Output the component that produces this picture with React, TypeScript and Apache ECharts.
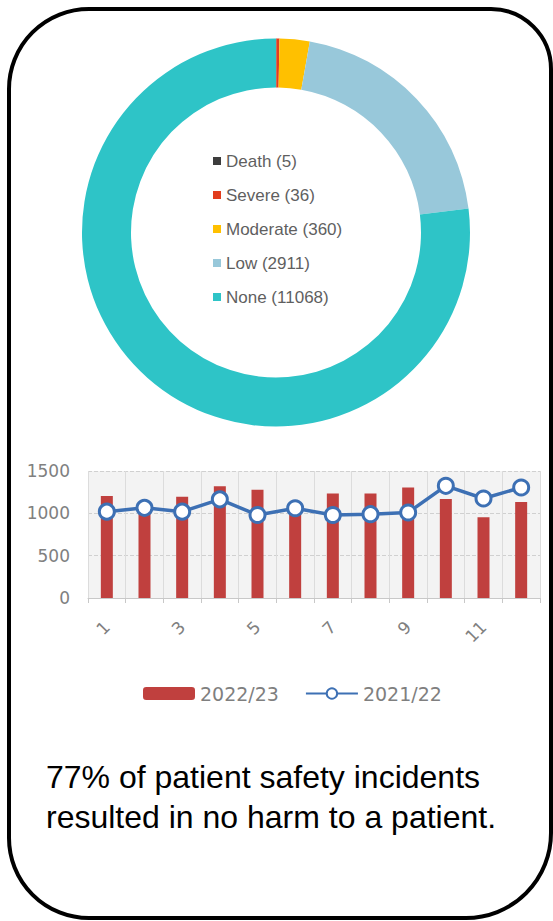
import React, { useEffect, useRef } from "react";
import * as echarts from "echarts";

const severityNames = ["Death", "Severe", "Moderate", "Low", "None"];
const severityCounts = [5, 36, 360, 2911, 11068];
const months = ["1", "2", "3", "4", "5", "6", "7", "8", "9", "10", "11", "12"];
const incidents2223 = [1205, 1060, 1195, 1320, 1280, 1040, 1235, 1235, 1305, 1170, 955, 1135];
const incidents2122 = [1020, 1065, 1020, 1165, 980, 1060, 980, 990, 1010, 1325, 1175, 1305];
const seriesNames = ["2022/23", "2021/22"];
const summaryText = "77% of patient safety incidents\nresulted in no harm to a patient.";

const sliceColors = ["#3d3d3d", "#e23d1e", "#ffc000", "#98c8da", "#2ec4c7"];
const ARIAL = 'Arial, "Liberation Sans", sans-serif';
const DEJAVU = '"DejaVu Sans", sans-serif';

export default function App() {
  const ref = useRef<HTMLDivElement>(null);
  useEffect(() => {
    document.body.style.margin = "0";
    if (!ref.current) return;
    const chart = echarts.init(ref.current, undefined, { renderer: "svg" });
    const pieData = severityNames.map((n, i) => ({
      name: n,
      value: severityCounts[i],
      itemStyle: { color: sliceColors[i] },
    }));
    chart.setOption({
      animation: false,
      backgroundColor: "#ffffff",
      legend: [
        {
          orient: "vertical",
          left: 208,
          top: 147,
          icon: "rect",
          itemWidth: 8,
          itemHeight: 8,
          itemGap: 16,
          selectedMode: false,
          data: severityNames,
          formatter: (name: string) => {
            const i = severityNames.indexOf(name);
            return `${name} (${severityCounts[i]})`;
          },
          textStyle: { fontFamily: ARIAL, fontSize: 17, color: "#5f5f5f", lineHeight: 18 },
        },
        {
          orient: "horizontal",
          left: 138,
          top: 679,
          itemWidth: 52,
          itemHeight: 13,
          itemGap: 26,
          selectedMode: false,
          data: seriesNames,
          textStyle: { fontFamily: DEJAVU, fontSize: 19, color: "#7f7f7f" },
        },
      ],
      grid: {
        left: 88,
        top: 471,
        width: 452,
        height: 127,
        show: true,
        backgroundColor: "#f3f3f3",
        borderWidth: 0,
      },
      xAxis: {
        type: "category",
        data: months,
        boundaryGap: true,
        axisLine: { show: true, lineStyle: { color: "#c8c8c8", width: 1 } },
        axisTick: { show: true, length: 5, interval: 0, lineStyle: { color: "#c8c8c8" } },
        splitLine: { show: true, interval: 0, lineStyle: { color: "#dcdcdc", width: 1 } },
        axisLabel: {
          interval: 1,
          rotate: 45,
          margin: 26,
          fontFamily: DEJAVU,
          fontSize: 17,
          color: "#808080",
        },
      },
      yAxis: {
        type: "value",
        min: 0,
        max: 1500,
        interval: 500,
        axisLine: { show: false },
        axisTick: { show: false },
        splitLine: { show: true, lineStyle: { color: "#d0d0d0", type: "dashed", width: 1 } },
        axisLabel: {
          margin: 18,
          fontFamily: DEJAVU,
          fontSize: 17,
          color: "#808080",
          formatter: (v: number) => String(v),
        },
      },
      series: [
        {
          type: "pie",
          center: [276, 232.5],
          radius: [145, 194],
          startAngle: 90,
          clockwise: true,
          silent: true,
          label: { show: false },
          labelLine: { show: false },
          data: pieData,
        },
        {
          name: seriesNames[0],
          type: "bar",
          data: incidents2223,
          barWidth: 12,
          itemStyle: { color: "#c0403e" },
          silent: true,
        },
        {
          name: seriesNames[1],
          type: "line",
          data: incidents2122,
          symbol: "circle",
          symbolSize: 15,
          lineStyle: { color: "#3d70b4", width: 3.5 },
          itemStyle: { color: "#ffffff", borderColor: "#3d70b4", borderWidth: 3 },
          z: 5,
          silent: true,
        },
      ],
      graphic: [
        {
          type: "text",
          left: 46,
          top: 757,
          style: {
            text: summaryText,
            fontFamily: ARIAL,
            fontSize: 32,
            lineHeight: 40,
            fill: "#000000",
          },
        },
        {
          type: "rect",
          shape: { x: 9, y: 9, width: 542, height: 909, r: [80, 60, 85, 80] },
          style: { fill: "none", stroke: "#000000", lineWidth: 4 },
          z: 100,
          silent: true,
        },
      ],
    });
    return () => chart.dispose();
  }, []);
  return <div ref={ref} style={{ width: 553, height: 921 }} />;
}
